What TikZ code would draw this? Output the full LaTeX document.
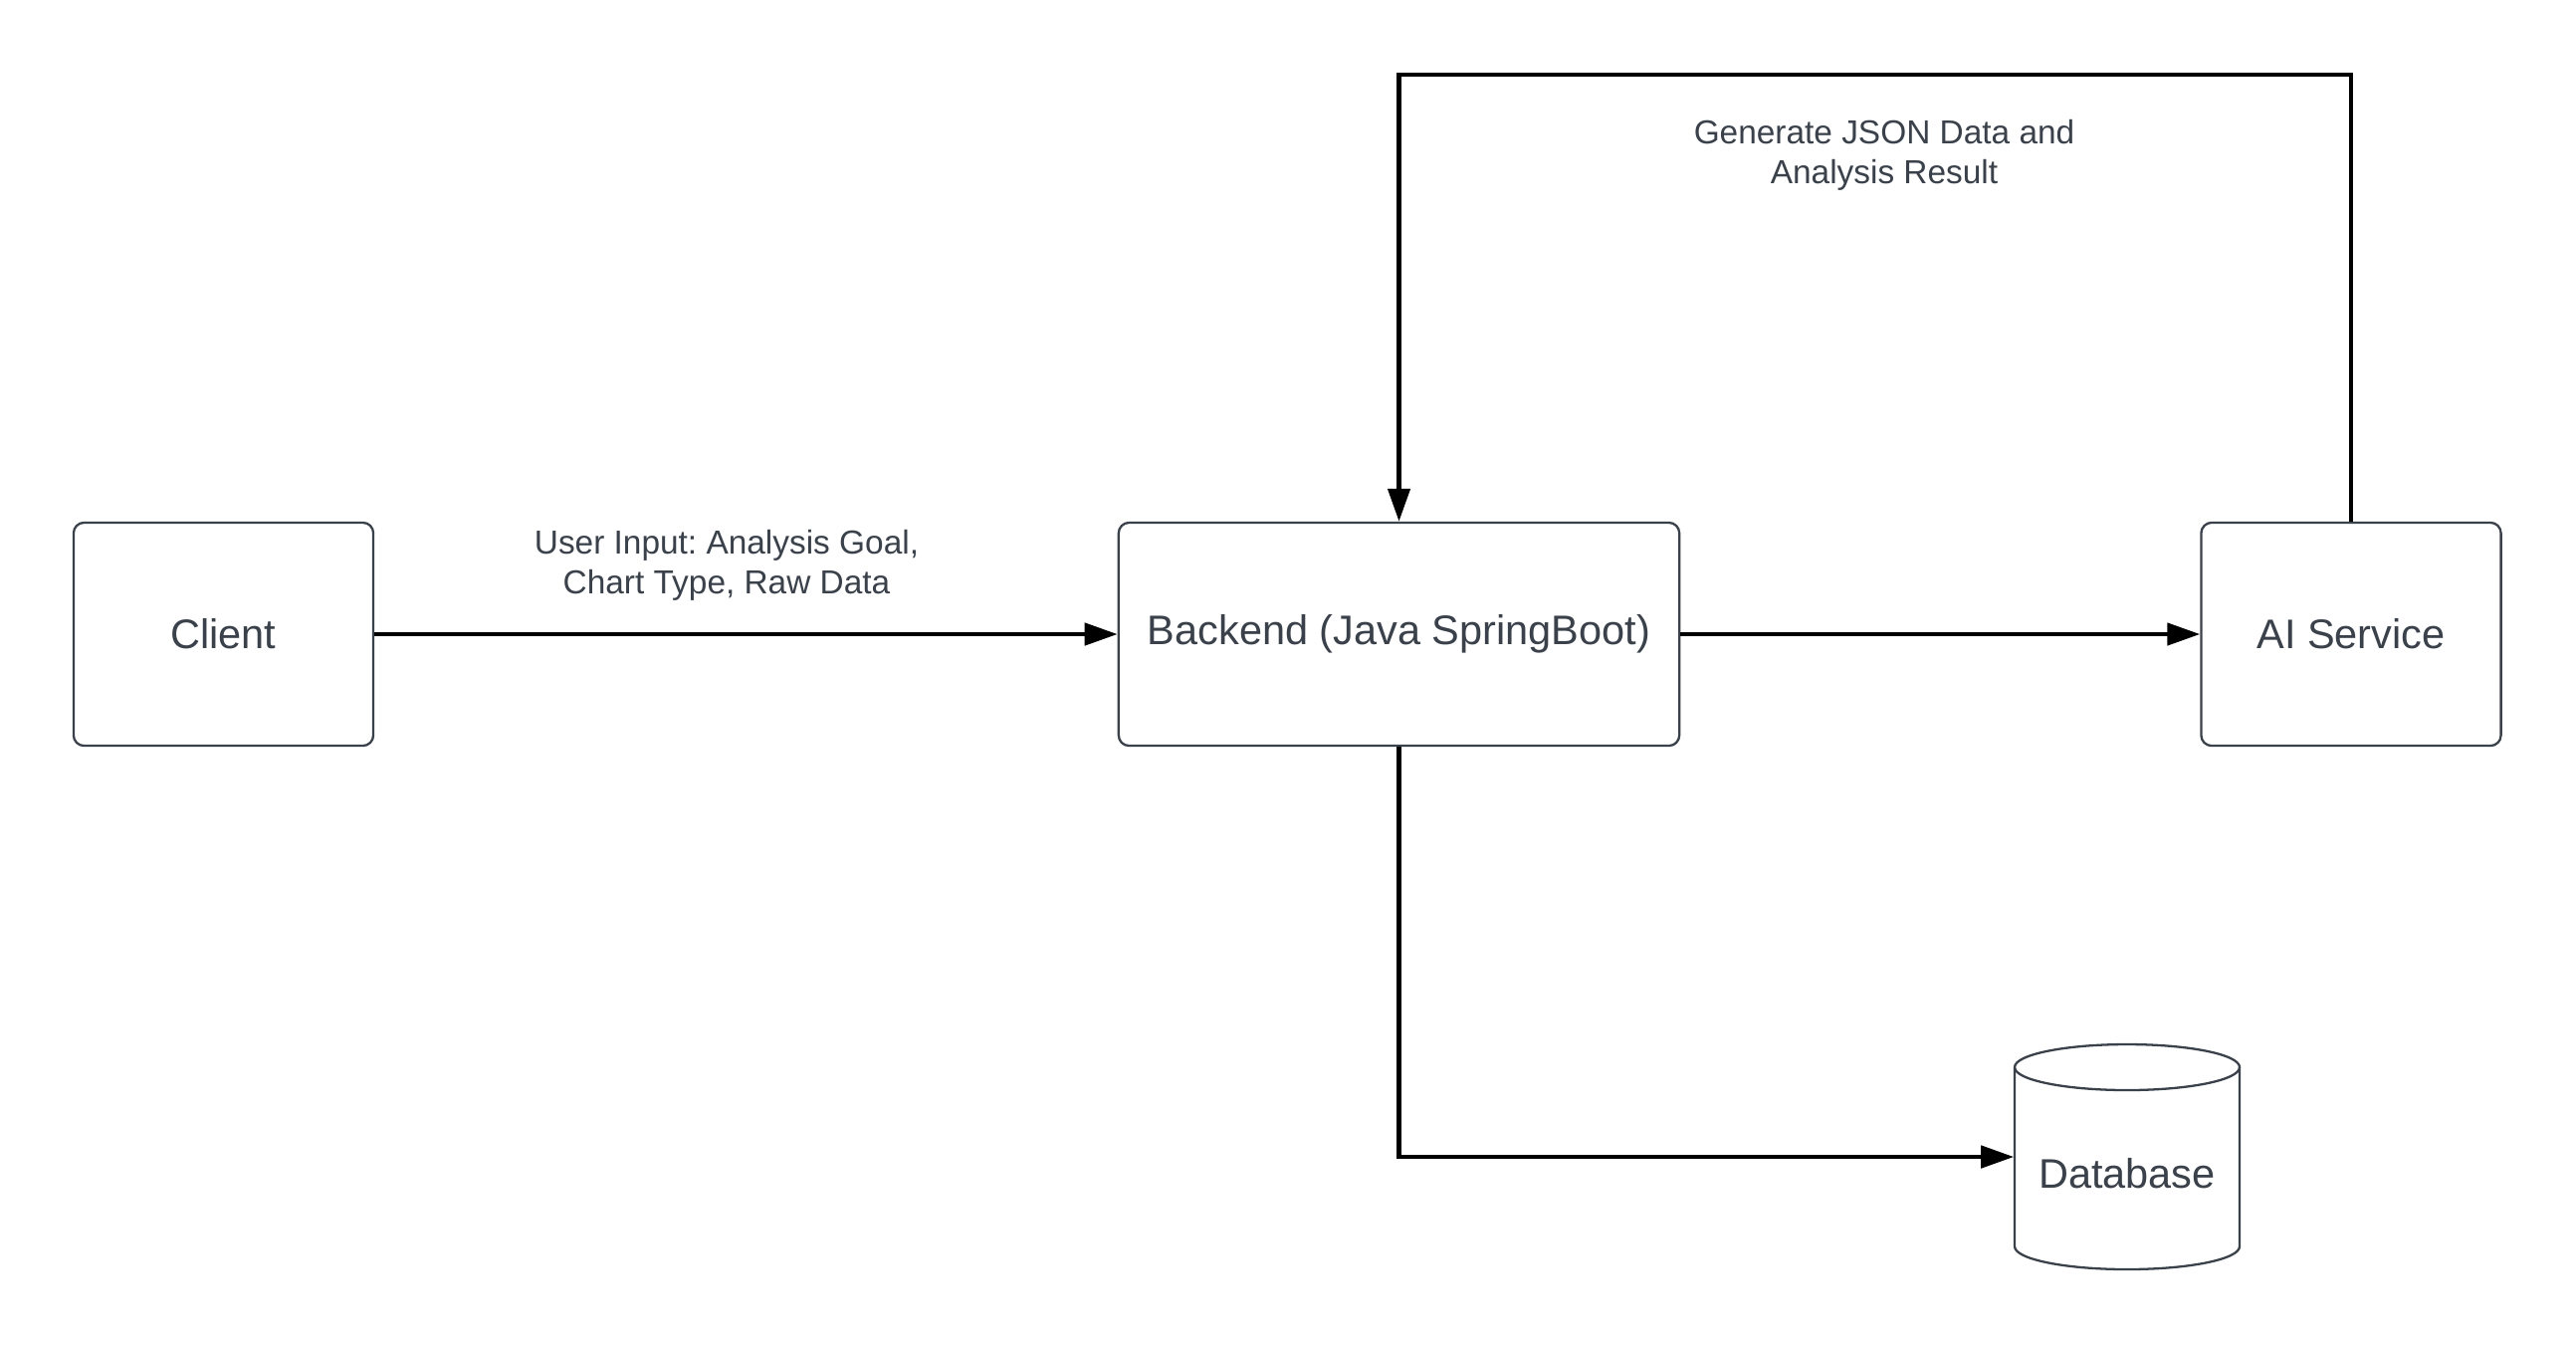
\documentclass[tikz,border=0pt]{standalone}
\usepackage{fontspec}
\setmainfont{Liberation Sans}
\frenchspacing
\usetikzlibrary{arrows.meta, positioning, calc}
\definecolor{inkgray}{HTML}{3A414A}
\tikzset{
  block/.style={rectangle, draw=inkgray, line width=0.65pt, rounded corners=3pt,
                minimum width=3.01cm, minimum height=2.24cm, align=center,
                text=inkgray, font=\fontsize{11.8}{14}\selectfont},
  dbnode/.style={rectangle, minimum width=2.26cm, minimum height=2.24cm,
                 text height=0.62cm, text depth=0pt,
                 align=center, text=inkgray, font=\fontsize{11.8}{14}\selectfont},
  dbline/.style={draw=inkgray, line width=0.65pt},
  flow/.style={-{Triangle[length=0.33cm,width=0.22cm]}, line width=1.3pt, black},
  lbl/.style={align=center, text=inkgray, font=\fontsize{9.5}{11.2}\selectfont},
}
\begin{document}
\begin{tikzpicture}[x=0.01cm, y=-0.01cm]
  \useasboundingbox (0,0) rectangle (2588,1350);
  \node[block] (client) at (224.5,637) {Client};
  \node[block, minimum width=5.63cm] (backend) at (1405.5,637) {Backend (Java SpringBoot)};
  \node[block] (ai) at (2362,637) {AI Service};
  \node[dbnode] (db) at (2137,1162) {Database};
  % cylinder round the database label
  \draw[dbline] (2137,1072) ellipse [x radius=113, y radius=23];
  \draw[dbline] (2024,1072) -- (2024,1252)
    arc[start angle=180, end angle=0, x radius=113, y radius=23] -- (2250,1072);
  \coordinate (loopR) at (2362,75);
  \coordinate (loopL) at (1405.5,75);
  \draw[flow] (client.east) -- (backend.west);
  \draw[flow] (backend.east) -- (ai.west);
  \draw[flow] (ai.north) -- (loopR) -- (loopL) -- (backend.north);
  \draw[flow] (backend.south) |- (db.west);
  \node[lbl] (inputlbl) at (730,568) {User Input: Analysis Goal,\\Chart Type, Raw Data};
  \node[lbl] (resultlbl) at (1893,156) {Generate JSON Data and\\Analysis Result};
\end{tikzpicture}
\end{document}
